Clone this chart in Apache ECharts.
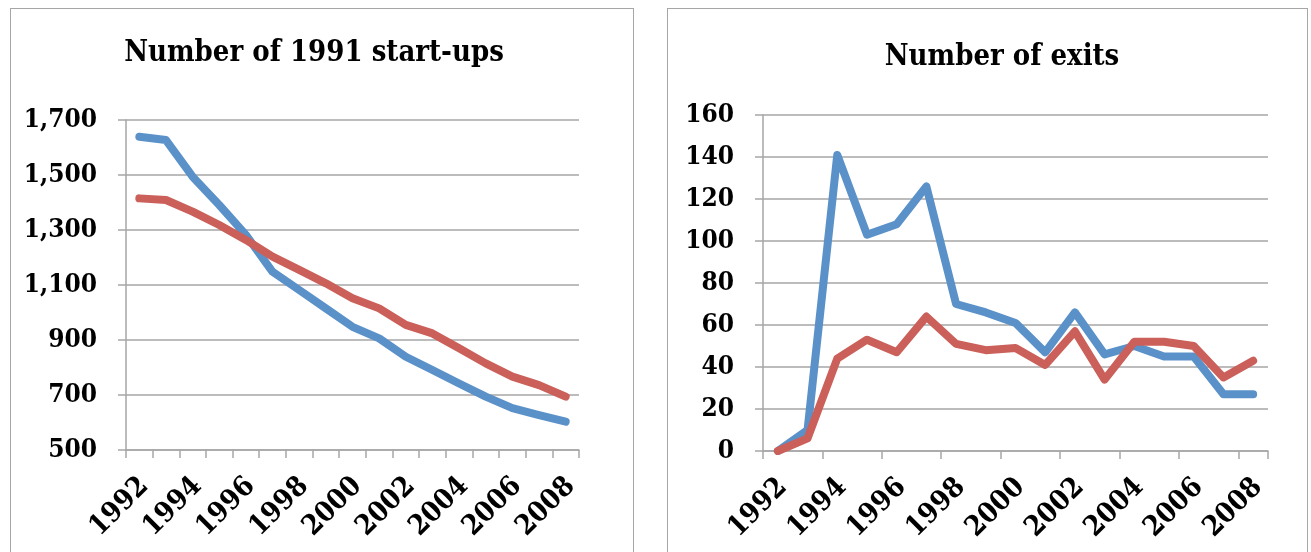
<!DOCTYPE html>
<html>
<head>
<meta charset="utf-8">
<script src="https://cdn.jsdelivr.net/npm/echarts@6/dist/echarts.min.js"></script>
<style>
  html, body { margin: 0; padding: 0; background: #fff; }
  .chart-box {
    position: absolute;
    top: 8px;
    height: 560px;
    box-sizing: border-box;
    border: 1px solid #a6a6a6;
    background: #fff;
  }
  #startups { left: 10px; width: 624px; }
  #exits { left: 667px; width: 641px; }
</style>
</head>
<body>
<div id="startups" class="chart-box"></div>
<div id="exits" class="chart-box"></div>
<script>
var years = ['1992', '1993', '1994', '1995', '1996', '1997', '1998', '1999', '2000',
  '2001', '2002', '2003', '2004', '2005', '2006', '2007', '2008']

// left chart: number of 1991 start-ups still alive
var startupsBlue = [1639, 1627, 1494, 1391, 1282, 1148, 1082, 1015, 948, 906, 839, 791, 742, 694, 652, 627, 603]
var startupsRed = [1415, 1409, 1367, 1318, 1264, 1203, 1155, 1106, 1052, 1015, 955, 924, 870, 815, 767, 736, 694]

// right chart: number of exits
var exitsBlue = [0, 10, 141, 103, 108, 126, 70, 66, 61, 47, 66, 46, 50, 45, 45, 27, 27]
var exitsRed = [0, 6, 44, 53, 47, 64, 51, 48, 49, 41, 57, 34, 52, 52, 50, 35, 43]

var BLUE = '#5b91c9'
var RED = '#cb5f59'
var GRID = '#a6a6a6'
var FONT = '"DejaVu Serif Condensed", "Liberation Serif", serif'

function lineSeries(data, color) {
  return {
    type: 'line',
    data: data,
    symbol: 'none',
    animation: false,
    lineStyle: { color: color, width: 8, cap: 'round', join: 'round' }
  }
}

function makeOption(cfg) {
  return {
    animation: false,
    title: {
      text: cfg.title,
      left: cfg.titleX,
      top: cfg.titleY,
      textAlign: 'center',
      textStyle: { fontFamily: FONT, fontSize: 29, fontWeight: 'bold', color: '#000' }
    },
    grid: cfg.grid,
    xAxis: {
      type: 'category',
      data: years,
      boundaryGap: true,
      axisLine: { show: true, lineStyle: { color: GRID, width: 1.5 } },
      axisTick: { show: true, interval: cfg.tickInterval, length: 8, lineStyle: { color: GRID, width: 1.5 } },
      axisLabel: {
        interval: 1,
        rotate: 45,
        margin: 37,
        padding: [0, -7, 0, 0],
        fontFamily: FONT,
        fontSize: 28,
        fontWeight: 'bold',
        color: '#000'
      },
      splitLine: { show: false }
    },
    yAxis: {
      type: 'value',
      min: cfg.yMin,
      max: cfg.yMax,
      interval: cfg.yStep,
      axisLine: { show: true, lineStyle: { color: GRID, width: 1.5 } },
      axisTick: { show: true, length: 8, lineStyle: { color: GRID, width: 1.5 } },
      axisLabel: {
        margin: 29,
        fontFamily: FONT,
        fontSize: 26,
        fontWeight: 'bold',
        color: '#000',
        formatter: function (v) {
          return v.toLocaleString('en-US')
        }
      },
      splitLine: { show: true, lineStyle: { color: GRID, width: 1.5 } }
    },
    series: [lineSeries(cfg.blue, BLUE), lineSeries(cfg.red, RED)]
  }
}

var leftChart = echarts.init(document.getElementById('startups'))
leftChart.setOption(makeOption({
  title: 'Number of 1991 start-ups',
  titleX: 298,
  titleY: 25,
  grid: { left: 115, top: 111, width: 453, height: 330 },
  tickInterval: 0,
  yMin: 500,
  yMax: 1700,
  yStep: 200,
  blue: startupsBlue,
  red: startupsRed
}))

var rightChart = echarts.init(document.getElementById('exits'))
rightChart.setOption(makeOption({
  title: 'Number of exits',
  titleX: 329,
  titleY: 29,
  grid: { left: 95, top: 106, width: 505, height: 336 },
  tickInterval: 1,
  yMin: 0,
  yMax: 160,
  yStep: 20,
  blue: exitsBlue,
  red: exitsRed
}))
</script>
</body>
</html>
